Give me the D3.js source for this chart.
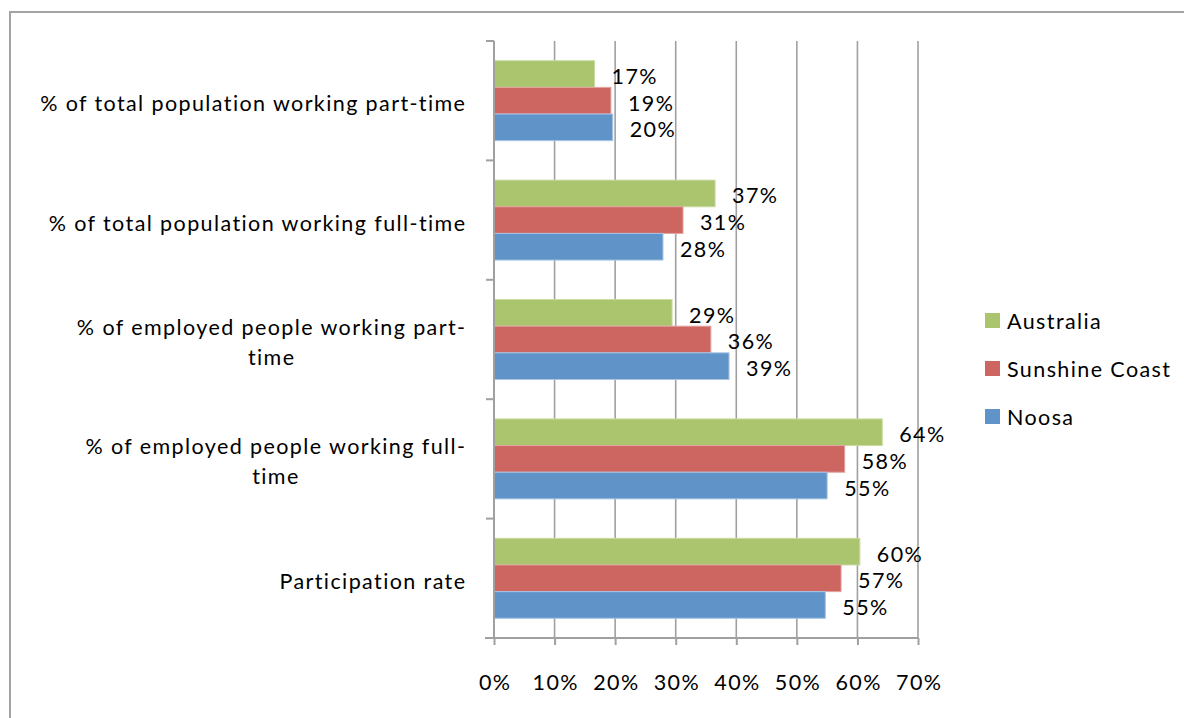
<!DOCTYPE html>
<html>
<head>
<meta charset="utf-8">
<script src="https://cdn.jsdelivr.net/npm/d3@7"></script>
<style>
  html, body { margin: 0; padding: 0; background: #ffffff; overflow: hidden; }
  svg { display: block; }
  text { font-family: Lato, "Open Sans", sans-serif; fill: #000; letter-spacing: 1.4px; }
</style>
</head>
<body>
<svg id="chart" width="1184" height="718"></svg>
<script>
// Labour force indicators, Noosa vs Sunshine Coast vs Australia
const categories = [
  "% of total population working part-time",
  "% of total population working full-time",
  "% of employed people working part-\ntime",
  "% of employed people working full-\ntime",
  "Participation rate"
];
const seriesNames = ["Australia", "Sunshine Coast", "Noosa"];
const australia     = [16.6, 36.5, 29.4, 64.1, 60.4];
const sunshineCoast = [19.3, 31.2, 35.8, 57.9, 57.3];
const noosa         = [19.6, 27.9, 38.8, 55.0, 54.7];
const xTicks = [0, 10, 20, 30, 40, 50, 60, 70];
const seriesColors = ["#abc46e", "#cd6560", "#6094c8"];
const seriesEdges  = ["#c9dba3", "#e3a3a0", "#a8c5e4"];

const seriesValues = [australia, sunshineCoast, noosa];
const rows = categories.map((c, i) => ({
  category: c,
  bars: seriesNames.map((s, j) => ({ series: s, value: seriesValues[j][i], color: seriesColors[j], edge: seriesEdges[j] }))
}));

const svg = d3.select("#chart");
const fontSize = 21.5;
const spacing = 1.4;

// outer chart frame
svg.append("rect")
  .attr("x", 10).attr("y", 12)
  .attr("width", 1200).attr("height", 730)
  .attr("fill", "none")
  .attr("stroke", "#a3a3a3")
  .attr("stroke-width", 2);

const plot = { left: 494, right: 918, top: 41, bottom: 638 };

const x = d3.scaleLinear().domain([0, 70]).range([plot.left, plot.right]);
const y = d3.scaleBand().domain(categories).range([plot.top, plot.bottom]).padding(0);
const yInner = d3.scaleBand().domain(seriesNames).range([0, y.bandwidth()])
  .paddingInner(0).paddingOuter(0.74);

const gridColor = "#a0a0a0";

// vertical gridlines
svg.append("g").selectAll("line")
  .data(xTicks.slice(1))
  .join("line")
  .attr("x1", d => x(d)).attr("x2", d => x(d))
  .attr("y1", plot.top).attr("y2", plot.bottom)
  .attr("stroke", gridColor).attr("stroke-width", 1.6);

// bars
const groups = svg.append("g").selectAll("g")
  .data(rows)
  .join("g")
  .attr("transform", d => `translate(0,${y(d.category)})`);

groups.selectAll("rect")
  .data(d => d.bars)
  .join("rect")
  .attr("x", x(0))
  .attr("y", d => yInner(d.series))
  .attr("width", d => x(d.value) - x(0))
  .attr("height", yInner.bandwidth())
  .attr("fill", d => d.color)
  .attr("stroke", d => d.edge)
  .attr("stroke-width", 1);

// data labels
const pct = v => Math.round(v) + "%";
groups.selectAll("text")
  .data(d => d.bars)
  .join("text")
  .attr("x", d => x(d.value) + 17)
  .attr("y", d => yInner(d.series) + yInner.bandwidth() / 2 + 2)
  .attr("dominant-baseline", "central")
  .attr("font-size", fontSize)
  .text(d => pct(d.value));

// x axis
const xAxis = d3.axisBottom(x)
  .tickValues(xTicks)
  .tickSize(7)
  .tickPadding(30)
  .tickFormat(d => d + "%");
const gx = svg.append("g")
  .attr("transform", `translate(0,${plot.bottom})`)
  .call(xAxis);
gx.select(".domain").remove();
gx.append("line")
  .attr("x1", plot.left - 9).attr("x2", plot.right)
  .attr("stroke", gridColor).attr("stroke-width", 2);
gx.selectAll(".tick line").attr("stroke", gridColor).attr("stroke-width", 2);
gx.selectAll(".tick text")
  .attr("font-size", fontSize)
  .attr("font-family", "Lato, sans-serif")
  .attr("fill", "#000")
  .attr("dx", spacing / 2);

// y axis: line with ticks at category boundaries
const yEdges = categories.map(c => y(c)).concat([plot.bottom]);
const gy = svg.append("g");
gy.append("line")
  .attr("x1", plot.left).attr("x2", plot.left)
  .attr("y1", plot.top).attr("y2", plot.bottom)
  .attr("stroke", gridColor).attr("stroke-width", 2);
gy.selectAll("line.tick")
  .data(yEdges)
  .join("line")
  .attr("class", "tick")
  .attr("x1", plot.left - 8).attr("x2", plot.left)
  .attr("y1", d => d).attr("y2", d => d)
  .attr("stroke", gridColor).attr("stroke-width", 2);

// category labels: right-aligned block, wrapped lines centred within it
const labelRight = 465;
const lineGap = 30;
categories.forEach(c => {
  const lines = c.split("\n");
  const cy = y(c) + y.bandwidth() / 2 + 2.5;
  const g = svg.append("g");
  const texts = lines.map((ln, i) => g.append("text")
    .attr("font-size", fontSize)
    .attr("dominant-baseline", "central")
    .attr("y", cy + (i - (lines.length - 1) / 2) * lineGap)
    .text(ln));
  const widths = texts.map(t => t.node().getComputedTextLength() - spacing);
  const maxW = d3.max(widths);
  texts.forEach(t => t.attr("text-anchor", "middle").attr("x", labelRight - maxW / 2 + spacing / 2));
});

// legend
const legend = svg.append("g").selectAll("g")
  .data(seriesNames)
  .join("g")
  .attr("transform", (d, i) => `translate(985,${313 + i * 48})`);
legend.append("rect")
  .attr("width", 15).attr("height", 15)
  .attr("fill", (d, i) => seriesColors[i]);
legend.append("text")
  .attr("x", 22).attr("y", 8)
  .attr("dominant-baseline", "central")
  .attr("font-size", fontSize)
  .text(d => d);
</script>
</body>
</html>
